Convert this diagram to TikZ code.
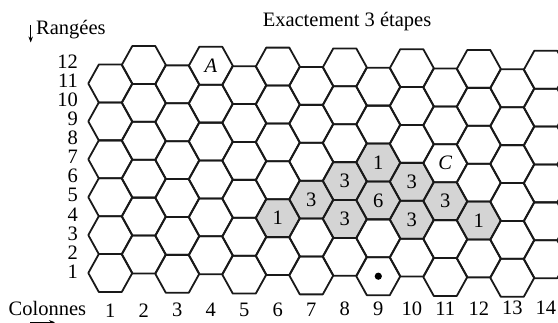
\documentclass[tikz,border=0pt]{standalone}
\usepackage{fontspec}
\setmainfont{Liberation Serif}
\usetikzlibrary{arrows.meta}
\tikzset{
  hexcell/.pic={\path[pic actions] (-22,0) -- (-11.5,-18.95) -- (11.5,-18.95) -- (22,0) -- (11.5,18.95) -- (-11.5,18.95) -- cycle;},
  hexline/.style={draw=black!90,line width=1.8pt,line join=round},
  shaded/.style={fill=black!17},
  lbl/.style={inner sep=0pt,font=\fontsize{20.5}{24}\selectfont},
  ital/.style={lbl,font=\fontsize{20.5}{24}\selectfont\itshape},
  axarrow/.style={line width=0.8pt,-{Stealth[length=6pt,width=4.5pt]}}
}
\begin{document}
\begin{tikzpicture}[x=1pt,y=-1pt]
\clip (0,0) rectangle (558,323);
\begin{scope}[yslant=-0.0119]
  \foreach \c in {1,...,14}{
    \foreach \k in {0,...,5}{
      \pgfmathtruncatemacro\r{mod(\c+1,2)+1+2*\k}
      \coordinate (h\c-\r) at ({110.3+(\c-1)*33.5},{271.7-(\r-1)*18.95});
    }
  }
  \foreach \c/\r in {6/4,7/5,8/4,8/6,9/5,9/7,10/4,10/6,11/5,12/4}
    \pic[shaded] at (h\c-\r) {hexcell};
  \foreach \c in {1,...,14}{
    \foreach \k in {0,...,5}{
      \pgfmathtruncatemacro\r{mod(\c+1,2)+1+2*\k}
      \pic[hexline] at (h\c-\r) {hexcell};
    }
  }
\end{scope}
% numbers in shaded cells
\foreach \c/\r/\n in {6/4/1,7/5/3,8/4/3,8/6/3,9/5/6,9/7/1,10/4/3,10/6/3,11/5/3,12/4/1}
  \node[lbl] (n\c-\r) at (h\c-\r) {\n};
\node[ital] (A) at (h4-12) {A};
\node[ital] (C) at (h11-7) {C};
\fill (h9-1) circle (3.6pt);
% row labels
\foreach \r in {1,...,12}
  \node[lbl,anchor=east] (rl\r) at (78,{271.5-(\r-1)*19.05}) {\r};
% column labels
\foreach \c in {1,...,14}
  \node[lbl] (cl\c) at ({110.3+(\c-1)*33.5},{310.5-0.2*(\c-1)}) {\c};
\node[lbl,anchor=base west] (colonnes) at (8.5,315.5) {Colonnes};
\node[lbl,anchor=base west] (rangees) at (36,35) {Rangées};
\node[lbl,anchor=base] (title) at (347,27) {Exactement 3 étapes};
\coordinate (dA) at (30.7,25);
\coordinate (dB) at (30.7,42.5);
\draw[axarrow] (dA) -- (dB);
\coordinate (rA) at (30,322.3);
\coordinate (rB) at (55,322.3);
\draw[axarrow] (rA) -- (rB);
\end{tikzpicture}
\end{document}
